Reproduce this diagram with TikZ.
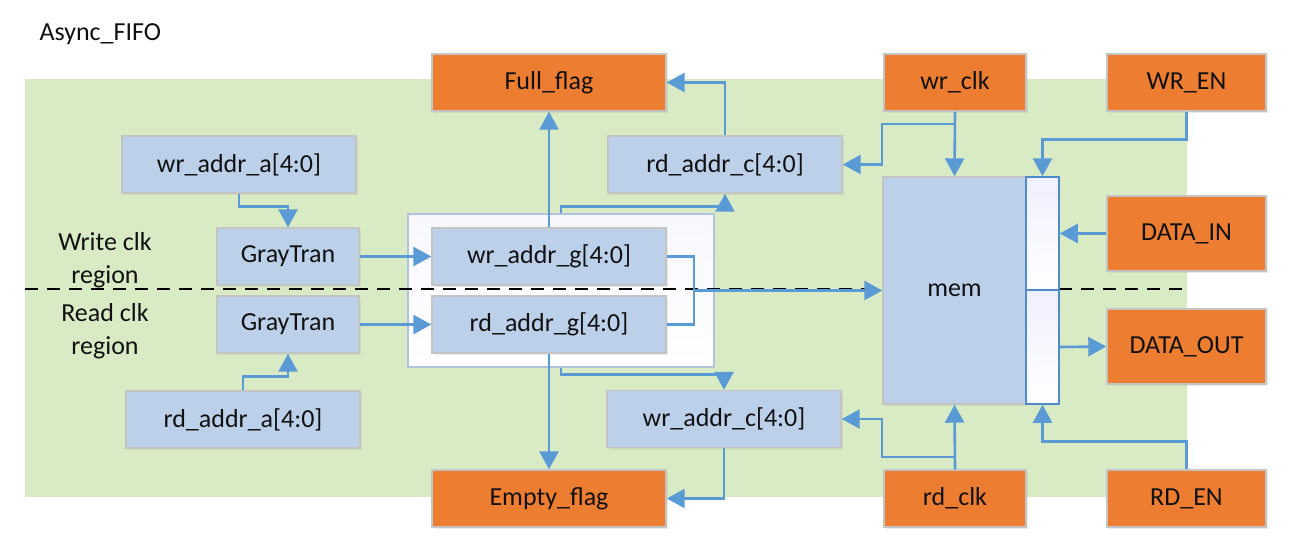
\documentclass[tikz,border=0pt]{standalone}
\usepackage{fontspec}
\setmainfont{Carlito}
\usetikzlibrary{arrows.meta,shadows,calc}
\definecolor{org}{HTML}{ED7D31}
\definecolor{lblue}{HTML}{BCD0EA}
\definecolor{bggreen}{HTML}{D8EBC5}
\definecolor{wire}{HTML}{5B9BD5}
\definecolor{bordergray}{HTML}{C4C4C4}
\definecolor{txt}{HTML}{111111}
\definecolor{stripblue}{HTML}{4F8BC9}
\definecolor{wbborder}{HTML}{AFC3DF}
\tikzset{
  lbl/.style={font=\fontsize{26}{33}\selectfont, text=txt},
  bluebox/.style={lbl, draw=bordergray, line width=1.4pt, fill=lblue, inner sep=0pt,
     drop shadow={opacity=0.12, shadow xshift=2pt, shadow yshift=-2pt}},
  orangebox/.style={lbl, draw=bordergray, line width=1.4pt, fill=org, inner sep=0pt,
     drop shadow={opacity=0.15, shadow xshift=2pt, shadow yshift=-2pt}},
  stripbox/.style={draw=stripblue, line width=1.5pt, inner sep=0pt, minimum width=33pt,
     top color=blue!6!white, bottom color=white},
  wireA/.style={draw=wire, line width=2.6pt, -{Triangle[width=19pt,length=18pt]}},
  wireN/.style={draw=wire, line width=2.6pt},
  sz/.style 2 args={minimum width=#1pt, minimum height=#2pt}
}
\begin{document}
\begin{tikzpicture}[x=1pt,y=-1pt]
\useasboundingbox (0,0) rectangle (1303,555);
\fill[white] (0,0) rectangle (1303,555);
% background
\fill[bggreen] (25,79) rectangle (1187,497);
\node[lbl, anchor=west] (title) at (36,34) {Async\_FIFO};
% white container
\node[draw=wbborder, line width=1.5pt, top color=blue!3!white, bottom color=white,
      minimum width=306pt, minimum height=153pt, inner sep=0pt] (wb) at (561,290.5) {};
% dashed line
\draw[black, line width=1.8pt, dash pattern=on 13pt off 9pt] (25,289) coordinate (dl) -- (1187,289) coordinate (dr);
% left boxes
\node[bluebox, sz={234}{57}] (wrA) at (239,164.5) {wr\_addr\_a[4:0]};
\node[bluebox, sz={142}{57}] (GT1) at (288,256.5) {GrayTran};
\node[bluebox, sz={142}{57}] (GT2) at (288,324.5) {GrayTran};
\node[bluebox, sz={234}{57}] (rdA) at (243,419.5) {rd\_addr\_a[4:0]};
\node[lbl, align=center] (wreg) at (105,260) {Write clk\\region};
\node[lbl, align=center] (rreg) at (105,331.5) {Read clk\\region};
% middle boxes
\node[orangebox, sz={234}{57}] (Full) at (549,82.5) {Full\_flag};
\node[bluebox, sz={234}{57}] (rdC) at (725,164.5) {rd\_addr\_c[4:0]};
\node[bluebox, sz={234}{57}] (wrG) at (549,256.5) {wr\_addr\_g[4:0]};
\node[bluebox, sz={234}{57}] (rdG) at (549,324.5) {rd\_addr\_g[4:0]};
\node[bluebox, sz={234}{57}] (wrC) at (724,419) {wr\_addr\_c[4:0]};
\node[orangebox, sz={234}{57}] (Empty) at (549,498.5) {Empty\_flag};
% right boxes
\node[orangebox, sz={142}{57}] (wrclk) at (955,82.5) {wr\_clk};
\node[orangebox, sz={159}{57}] (wren) at (1186.5,82.5) {WR\_EN};
\node[bluebox, sz={143}{227}] (mem) at (954.5,290.5) {mem};
\node[stripbox, minimum height=113pt] (stripT) at (1042.5,233.5) {};
\node[stripbox, minimum height=114pt] (stripB) at (1042.5,347) {};
\node[orangebox, sz={159}{75}] (din) at (1186.5,233.5) {DATA\_IN};
\node[orangebox, sz={159}{75}] (dout) at (1186.5,346.5) {DATA\_OUT};
\node[orangebox, sz={142}{57}] (rdclk) at (955,498.5) {rd\_clk};
\node[orangebox, sz={159}{57}] (rden) at (1186.5,498.5) {RD\_EN};
% connectors left
\draw[wireA] (wrA.south) -- ++(0,13) -| (GT1.north);
\draw[wireA] (rdA.north) -- ++(0,-14) -| (GT2.south);
\draw[wireA] (GT1.east) -- (wrG.west);
\draw[wireA] (GT2.east) -- (rdG.west);
% middle
\draw[wireA] (wrG.north) -- (Full.south);
\draw[wireA] (rdC.north) |- (Full.east);
\draw[wireA] (wb.north) -- ++(0,-7) -| (rdC.south);
\coordinate (merge) at (694,290.5);
\draw[wireN] (wrG.east) -- (694,256.5) |- (rdG.east);
\draw[wireA] (merge) -- (mem.west);
\draw[wireA] (rdG.south) -- (Empty.north);
\draw[wireA] (wb.south) -- ++(0,7) -| (wrC.north);
\draw[wireA] (wrC.south) |- (Empty.east);
% right
\draw[wireA] (wrclk.south) -- (mem.north);
\coordinate (wck) at (955,124);
\coordinate (wckb) at (882,164.5);
\draw[wireA] (wck) -| (wckb) -- (rdC.east);
\draw[wireA] (wren.south) -- ++(0,28) -| (stripT.north);
\draw[wireA] (din.west) -- (stripT.east);
\draw[wireA] (stripB.east) -- (dout.west);
\draw[wireA] (rdclk.north) -- (mem.south);
\coordinate (rck) at (955,457);
\coordinate (rckb) at (882,419);
\draw[wireA] (rck) -| (rckb) -- (wrC.east);
\draw[wireA] (rden.north) -- ++(0,-28) -| (stripB.south);
\end{tikzpicture}
\end{document}
